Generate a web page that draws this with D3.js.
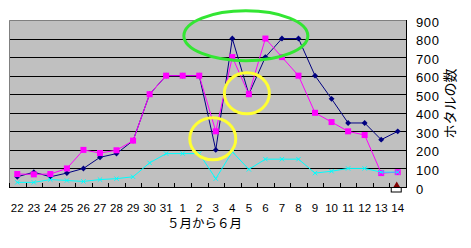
<!DOCTYPE html>
<html><head><meta charset="utf-8">
<script src="https://cdn.jsdelivr.net/npm/d3@7/dist/d3.min.js"></script>
<style>html,body{margin:0;padding:0;background:#fff;}svg{display:block;}</style>
</head><body>
<script>
const categories = ["22","23","24","25","26","27","28","29","30","31","1","2","3","4","5","6","7","8","9","10","11","12","13","14"];
const seriesNavy = [55,80,55,75,100,160,180,250,500,600,600,600,200,800,500,700,800,800,600,475,345,345,255,300];
const seriesPink = [70,68,70,100,200,183,198,250,500,600,600,600,300,700,500,800,700,600,400,350,300,280,75,80];
const seriesCyan = [25,25,40,35,30,40,45,55,130,180,180,180,45,190,95,150,150,150,75,85,100,100,80,80];
const seriesRed = [null,null,null,null,null,null,null,null,null,null,null,null,null,null,null,null,null,null,null,null,null,null,null,10];
const yTicks = [0,100,200,300,400,500,600,700,800,900];
const yTitle = "ホタルの数";
const xTitle = "５月から６月";

const W = 471, H = 248;
const L = 9, R = 406, T = 20, B = 187;
const svg = d3.select("body").append("svg").attr("width", W).attr("height", H);
const x = d3.scaleBand().domain(categories).range([L, R]).padding(0);
const y = d3.scaleLinear().domain([0, 900]).range([B, T]);
const cx = d => x(d) + x.bandwidth() / 2;

svg.append("rect").attr("x", L).attr("y", T).attr("width", R - L).attr("height", B - T).attr("fill", "#C0C0C0");
// grid
svg.append("g").selectAll("line").data(yTicks.filter(v => v > 0 && v < 900)).join("line")
  .attr("x1", L).attr("x2", R).attr("y1", d => Math.round(y(d)) + 0.5).attr("y2", d => Math.round(y(d)) + 0.5)
  .attr("stroke", "#000").attr("stroke-width", 1);
// border
svg.append("path").attr("d", `M${L+0.5},${B}V${T+0.5}H${R}`).attr("fill", "none").attr("stroke", "#808080");
svg.append("line").attr("x1", R + 0.5).attr("x2", R + 0.5).attr("y1", T).attr("y2", B + 1).attr("stroke", "#000");
svg.append("line").attr("x1", L).attr("x2", R + 1).attr("y1", B + 0.5).attr("y2", B + 0.5).attr("stroke", "#000");
// x ticks (inward)
svg.append("g").selectAll("line").data(categories).join("line")
  .attr("x1", d => Math.round(x(d)) + 0.5).attr("x2", d => Math.round(x(d)) + 0.5)
  .attr("y1", B - 4).attr("y2", B).attr("stroke", "#000");

// x labels
svg.append("g").selectAll("text").data(categories).join("text")
  .attr("x", d => cx(d)).attr("y", 212).attr("text-anchor", "middle")
  .attr("font-family", "Liberation Sans, Arial, sans-serif").attr("font-size", 11.5).attr("fill", "#000")
  .text(d => d);
svg.append("text").attr("x", (L + R) / 2 - 3).attr("y", 228).attr("text-anchor", "middle")
  .attr("font-family", "Noto Sans CJK JP, sans-serif").attr("font-size", 12.5).attr("fill", "#000").text(xTitle);

// right y labels
svg.append("g").selectAll("text").data(yTicks).join("text")
  .attr("x", 416).attr("y", d => y(d) + 6.5)
  .attr("font-family", "Liberation Sans, Arial, sans-serif").attr("font-size", 13).attr("letter-spacing", 0.6).attr("fill", "#000")
  .text(d => d);
svg.append("text").attr("transform", `translate(455,${(T + B) / 2 + 0}) rotate(-90)`).attr("text-anchor", "middle")
  .attr("font-family", "Noto Sans CJK JP, sans-serif").attr("font-size", 14).attr("fill", "#000").text(yTitle);

function lineFor(data, color) {
  const ln = d3.line().defined(d => d != null).x((d, i) => cx(categories[i])).y(d => y(d));
  svg.append("path").datum(data).attr("d", ln).attr("fill", "none").attr("stroke", color).attr("stroke-width", 1);
}
// navy
lineFor(seriesNavy, "#000080");
svg.append("g").selectAll("path").data(seriesNavy).join("path")
  .attr("d", d3.symbol().type(d3.symbolDiamond2).size(22))
  .attr("transform", (d, i) => `translate(${cx(categories[i])},${y(d)})`).attr("fill", "#000080");
// pink
lineFor(seriesPink, "#FF00FF");
svg.append("g").selectAll("rect").data(seriesPink).join("rect")
  .attr("x", (d, i) => cx(categories[i]) - 3).attr("y", d => y(d) - 3).attr("width", 6).attr("height", 6)
  .attr("fill", "#FF00FF");
// cyan
lineFor(seriesCyan, "#00FFFF");
svg.append("g").selectAll("path").data(seriesCyan).join("path")
  .attr("d", d3.symbol().type(d3.symbolX).size(14))
  .attr("transform", (d, i) => `translate(${cx(categories[i])},${y(d)})`).attr("fill", "none").attr("stroke", "#00FFFF").attr("stroke-width", 1);
// red triangle series
seriesRed.forEach((v, i) => {
  if (v == null) return;
  const px = cx(categories[i]) - 1, py = y(v);
  svg.append("path").attr("d", d3.symbol().type(d3.symbolTriangle).size(18)).attr("transform", `translate(${px},${py})`).attr("fill", "#800000");
  svg.append("rect").attr("x", px - 5.5).attr("y", B + 0.5).attr("width", 10).attr("height", 4.5).attr("fill", "#fff").attr("stroke", "#000");
});

// annotations
svg.append("ellipse").attr("cx", cx("5") - 3).attr("cy", y(815)).attr("rx", 62).attr("ry", 25)
  .attr("fill", "none").attr("stroke", "#33E633").attr("stroke-width", 3);
svg.append("ellipse").attr("cx", cx("3") - 3).attr("cy", y(260)).attr("rx", 23).attr("ry", 21)
  .attr("fill", "none").attr("stroke", "#FFFF33").attr("stroke-width", 3);
svg.append("ellipse").attr("cx", cx("5") - 2).attr("cy", y(505)).attr("rx", 22.5).attr("ry", 20.5)
  .attr("fill", "none").attr("stroke", "#FFFF33").attr("stroke-width", 3);
</script>
</body></html>
